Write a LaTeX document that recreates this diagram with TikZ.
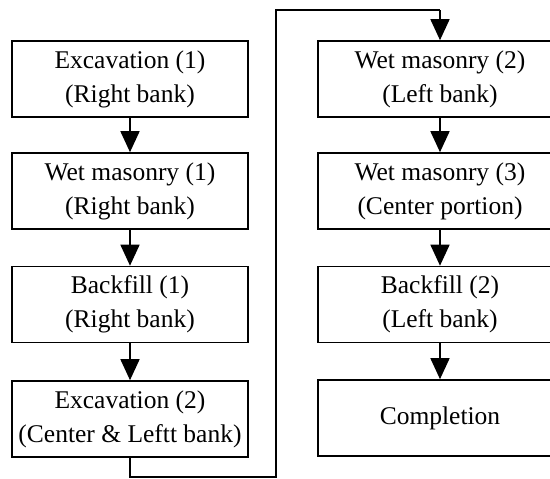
\documentclass[tikz,border=0pt]{standalone}
\usepackage{fontspec}
\setmainfont{Liberation Serif}
\usetikzlibrary{arrows.meta}
\begin{document}
\begin{tikzpicture}[x=1pt,y=-1pt,
  stepbox/.style={draw, line width=1.6pt, rectangle, minimum height=76pt, inner sep=0pt,
    align=center, font=\fontsize{25.5}{34}\selectfont},
  lbox/.style={stepbox, minimum width=236pt},
  rbox/.style={stepbox, minimum width=244pt},
  flow/.style={line width=1.6pt, -{Triangle[width=19pt,length=21pt]}},
  link/.style={line width=1.6pt}]
\useasboundingbox (0,0) rectangle (550,479);
\clip (0,0) rectangle (550,479);
\node[lbox] (l1) at (130,79) {Excavation (1)\\(Right bank)};
\node[lbox] (l2) at (130,191) {Wet masonry (1)\\(Right bank)};
\node[lbox] (l3) at (130,304.5) {Backfill (1)\\(Right bank)};
\node[lbox] (l4) at (130,419) {Excavation (2)\\(Center \& Leftt bank)};
\node[rbox] (r1) at (440,79) {Wet masonry (2)\\(Left bank)};
\node[rbox] (r2) at (440,191) {Wet masonry (3)\\(Center portion)};
\node[rbox] (r3) at (440,304.5) {Backfill (2)\\(Left bank)};
\node[rbox] (r4) at (440,418) {Completion};
\coordinate (c1) at (130,477);
\coordinate (c2) at (276,477);
\coordinate (c3) at (276,10);
\coordinate (c4) at (440,10);
\draw[flow] (l1) -- (l2);
\draw[flow] (l2) -- (l3);
\draw[flow] (l3) -- (l4);
\draw[flow] (r1) -- (r2);
\draw[flow] (r2) -- (r3);
\draw[flow] (r3) -- (r4);
\draw[link] (l4.south) -- (c1) -- (c2) -- (c3) -- (c4);
\draw[flow] (c4) -- (r1.north);
\end{tikzpicture}
\end{document}
